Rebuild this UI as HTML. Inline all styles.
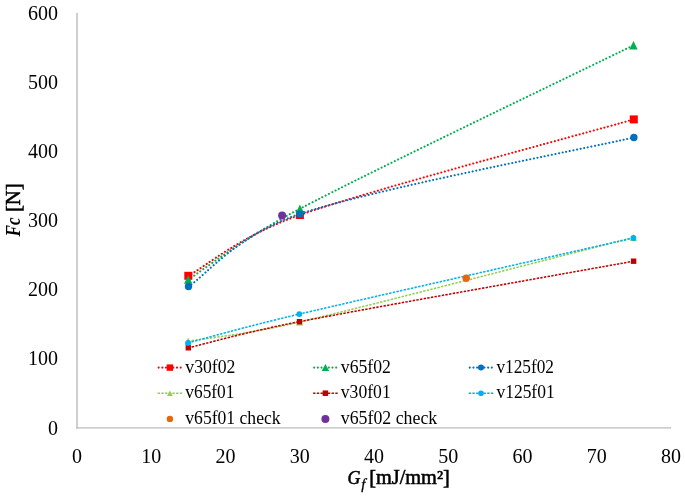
<!DOCTYPE html>
<html><head><meta charset="utf-8"><style>
html,body{margin:0;padding:0;background:#fff;}
body{width:685px;height:498px;overflow:hidden;}
svg{display:block;will-change:transform;}
text{font-family:"Liberation Serif",serif;fill:#000;}
.tk{font-size:20px;}
.lg{font-size:18px;}
.ttl{font-size:20px;}
.sb{stroke:#000;stroke-width:0.55px;}
</style></head><body>
<svg width="685" height="498" viewBox="0 0 685 498">
<line x1="77" y1="12.9" x2="77" y2="428.6" stroke="#BBBBBB" stroke-width="1.4"/>
<line x1="76.3" y1="427.9" x2="671" y2="427.9" stroke="#BBBBBB" stroke-width="1.4"/>
<text x="58" y="434.50" text-anchor="end" class="tk">0</text>
<text x="58" y="365.42" text-anchor="end" class="tk">100</text>
<text x="58" y="296.34" text-anchor="end" class="tk">200</text>
<text x="58" y="227.26" text-anchor="end" class="tk">300</text>
<text x="58" y="158.18" text-anchor="end" class="tk">400</text>
<text x="58" y="89.10" text-anchor="end" class="tk">500</text>
<text x="58" y="20.02" text-anchor="end" class="tk">600</text>
<text x="77.00" y="462.5" text-anchor="middle" class="tk">0</text>
<text x="151.25" y="462.5" text-anchor="middle" class="tk">10</text>
<text x="225.50" y="462.5" text-anchor="middle" class="tk">20</text>
<text x="299.75" y="462.5" text-anchor="middle" class="tk">30</text>
<text x="374.00" y="462.5" text-anchor="middle" class="tk">40</text>
<text x="448.25" y="462.5" text-anchor="middle" class="tk">50</text>
<text x="522.50" y="462.5" text-anchor="middle" class="tk">60</text>
<text x="596.75" y="462.5" text-anchor="middle" class="tk">70</text>
<text x="671.00" y="462.5" text-anchor="middle" class="tk">80</text>
<path d="M188.30,275.80 C206.90,265.67 239.94,236.05 299.90,215.00 C374.15,188.93 578.15,135.33 633.80,119.40" fill="none" stroke="#FF0000" stroke-width="2.05" stroke-dasharray="0.1 3.57" stroke-linecap="round"/>
<path d="M188.20,279.50 C206.82,267.72 241.40,239.57 299.90,208.80 C374.12,169.77 577.90,72.55 633.50,45.30" fill="none" stroke="#00B050" stroke-width="2.05" stroke-dasharray="0.1 3.57" stroke-linecap="round"/>
<path d="M188.50,286.50 C207.07,274.40 236.85,234.99 299.90,213.90 C374.13,189.07 578.23,150.23 633.90,137.50" fill="none" stroke="#0070C0" stroke-width="2.05" stroke-dasharray="0.1 3.57" stroke-linecap="round"/>
<path d="M188.10,341.30 C206.67,338.08 244.45,334.83 299.50,322.00 C373.73,304.70 577.83,251.58 633.50,237.50" fill="none" stroke="#92D050" stroke-width="1.55" stroke-dasharray="2.4 1.3" stroke-linecap="butt"/>
<path d="M188.30,347.80 C206.83,343.45 243.44,332.60 299.50,321.70 C373.72,307.27 577.92,271.28 633.60,261.20" fill="none" stroke="#C00000" stroke-width="1.55" stroke-dasharray="2.4 1.3" stroke-linecap="butt"/>
<path d="M188.10,342.80 C206.63,338.02 243.41,327.25 299.30,314.10 C373.52,296.63 577.72,250.68 633.40,238.00" fill="none" stroke="#00B0F0" stroke-width="1.55" stroke-dasharray="2.4 1.3" stroke-linecap="butt"/>
<rect x="184.30" y="271.80" width="8" height="8" fill="#FF0000"/>
<rect x="295.90" y="211.00" width="8" height="8" fill="#FF0000"/>
<rect x="629.80" y="115.40" width="8" height="8" fill="#FF0000"/>
<path d="M188.20,275.30 L192.40,283.70 L184.00,283.70 Z" fill="#00B050"/>
<path d="M299.90,204.60 L304.10,213.00 L295.70,213.00 Z" fill="#00B050"/>
<path d="M633.50,41.10 L637.70,49.50 L629.30,49.50 Z" fill="#00B050"/>
<circle cx="188.50" cy="286.50" r="3.70" fill="#0070C0"/>
<circle cx="299.90" cy="213.90" r="3.70" fill="#0070C0"/>
<circle cx="633.90" cy="137.50" r="3.70" fill="#0070C0"/>
<path d="M188.10,337.80 L191.60,344.80 L184.60,344.80 Z" fill="#92D050"/>
<path d="M299.50,318.50 L303.00,325.50 L296.00,325.50 Z" fill="#92D050"/>
<path d="M633.50,234.00 L637.00,241.00 L630.00,241.00 Z" fill="#92D050"/>
<rect x="185.60" y="345.10" width="5.4" height="5.4" fill="#C00000"/>
<rect x="296.80" y="319.00" width="5.4" height="5.4" fill="#C00000"/>
<rect x="630.90" y="258.50" width="5.4" height="5.4" fill="#C00000"/>
<circle cx="188.10" cy="342.80" r="2.90" fill="#00B0F0"/>
<circle cx="299.30" cy="314.10" r="2.90" fill="#00B0F0"/>
<circle cx="633.40" cy="238.00" r="2.90" fill="#00B0F0"/>
<circle cx="466.20" cy="278.20" r="3.70" fill="#E5690C"/>
<circle cx="282.10" cy="215.50" r="4.00" fill="#7030A0"/>
<line x1="158.62" y1="367.6" x2="181.18" y2="367.6" stroke="#FF0000" stroke-width="2.05" stroke-dasharray="0.1 3.57" stroke-linecap="round"/>
<rect x="166.70" y="364.40" width="6.4" height="6.4" fill="#FF0000"/>
<text x="185.30" y="372.60" class="lg" textLength="50.1" lengthAdjust="spacingAndGlyphs">v30f02</text>
<line x1="314.12" y1="367.6" x2="336.67" y2="367.6" stroke="#00B050" stroke-width="2.05" stroke-dasharray="0.1 3.57" stroke-linecap="round"/>
<path d="M325.40,364.10 L329.15,371.10 L321.65,371.10 Z" fill="#00B050"/>
<text x="340.80" y="372.60" class="lg" textLength="50.1" lengthAdjust="spacingAndGlyphs">v65f02</text>
<line x1="469.73" y1="367.6" x2="492.27" y2="367.6" stroke="#0070C0" stroke-width="2.05" stroke-dasharray="0.1 3.57" stroke-linecap="round"/>
<circle cx="481.00" cy="367.60" r="3.00" fill="#0070C0"/>
<text x="496.40" y="372.60" class="lg" textLength="57.6" lengthAdjust="spacingAndGlyphs">v125f02</text>
<line x1="157.60" y1="393.2" x2="182.20" y2="393.2" stroke="#92D050" stroke-width="1.55" stroke-dasharray="2.4 1.3" stroke-linecap="butt"/>
<path d="M169.90,390.50 L172.85,395.90 L166.95,395.90 Z" fill="#92D050"/>
<text x="185.30" y="398.20" class="lg" textLength="49.1" lengthAdjust="spacingAndGlyphs">v65f01</text>
<line x1="313.10" y1="393.2" x2="337.70" y2="393.2" stroke="#C00000" stroke-width="1.55" stroke-dasharray="2.4 1.3" stroke-linecap="butt"/>
<rect x="322.65" y="390.45" width="5.5" height="5.5" fill="#C00000"/>
<text x="340.80" y="398.20" class="lg" textLength="49.9" lengthAdjust="spacingAndGlyphs">v30f01</text>
<line x1="468.70" y1="393.2" x2="493.30" y2="393.2" stroke="#00B0F0" stroke-width="1.55" stroke-dasharray="2.4 1.3" stroke-linecap="butt"/>
<circle cx="481.00" cy="393.20" r="2.80" fill="#00B0F0"/>
<text x="496.40" y="398.20" class="lg" textLength="58.3" lengthAdjust="spacingAndGlyphs">v125f01</text>
<circle cx="169.90" cy="418.90" r="3.20" fill="#E5690C"/>
<text x="185.30" y="423.90" class="lg" textLength="95.3" lengthAdjust="spacingAndGlyphs">v65f01 check</text>
<circle cx="325.40" cy="418.90" r="4.00" fill="#7030A0"/>
<text x="340.80" y="423.90" class="lg" textLength="96.4" lengthAdjust="spacingAndGlyphs">v65f02 check</text>
<text x="347.6" y="484.4" class="sb" font-size="18.8" font-style="italic" textLength="13" lengthAdjust="spacingAndGlyphs">G</text>
<text x="361.2" y="488.6" font-size="15" font-style="italic" stroke="#000" stroke-width="0.3">f</text>
<text x="369.2" y="484.4" class="ttl sb" textLength="80.6" lengthAdjust="spacingAndGlyphs">[mJ/mm²]</text>
<g transform="translate(20,236.4) rotate(-90)"><text x="0" y="0" class="ttl" font-weight="bold" font-style="italic" textLength="19" lengthAdjust="spacingAndGlyphs">Fc</text><text x="24.3" y="0" class="ttl sb" textLength="28.8" lengthAdjust="spacingAndGlyphs">[N]</text></g>
</svg>
</body></html>
